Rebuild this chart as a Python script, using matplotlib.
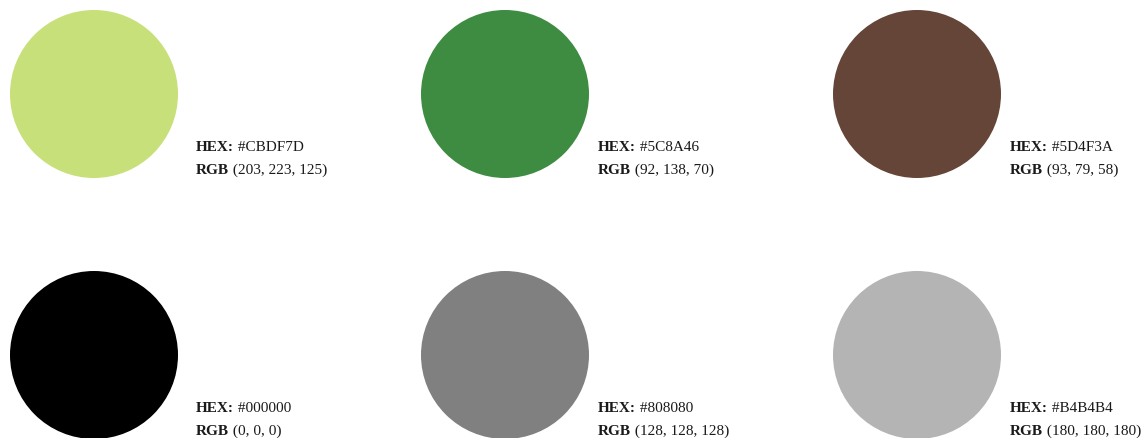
import matplotlib
matplotlib.use("Agg")
import matplotlib.pyplot as plt
from matplotlib.patches import Circle

# palette data
hex_codes = ["#CBDF7D", "#5C8A46", "#5D4F3A", "#000000", "#808080", "#B4B4B4"]
rgb_values = ["(203, 223, 125)", "(92, 138, 70)", "(93, 79, 58)", "(0, 0, 0)", "(128, 128, 128)", "(180, 180, 180)"]
# colours as they appear on the swatches
swatch_colors = ["#C8E07A", "#3E8C42", "#644538", "#000000", "#808080", "#B4B4B4"]

W, H = 1145, 439
fig = plt.figure(figsize=(W / 100, H / 100), dpi=100)
ax = fig.add_axes([0, 0, 1, 1])
ax.set_xlim(0, W)
ax.set_ylim(H, 0)
ax.axis("off")

col_x = [94, 505, 917]
txt_x = [196, 598, 1010]
row_y = [95, 356]
r = 84
fnt = "Liberation Serif"
fs = 11

for i in range(len(hex_codes)):
    cx = col_x[i % 3]
    cy = row_y[i // 3]
    ax.add_patch(Circle((cx, cy), r, color=swatch_colors[i], lw=0))
    tx = txt_x[i % 3]
    t1 = ax.text(tx, cy + 56, "HEX:", fontfamily=fnt, fontweight="bold", fontsize=fs,
                 color="#1a1a1a", va="baseline")
    ax.annotate(" " + hex_codes[i], xycoords=t1, xy=(1, 0), va="bottom",
                fontfamily=fnt, fontsize=fs, color="#1a1a1a")
    t2 = ax.text(tx, cy + 79, "RGB", fontfamily=fnt, fontweight="bold", fontsize=fs,
                 color="#1a1a1a", va="baseline")
    ax.annotate(" " + rgb_values[i], xycoords=t2, xy=(1, 0), va="bottom",
                fontfamily=fnt, fontsize=fs, color="#1a1a1a")

fig.savefig("out.png", dpi=100)
